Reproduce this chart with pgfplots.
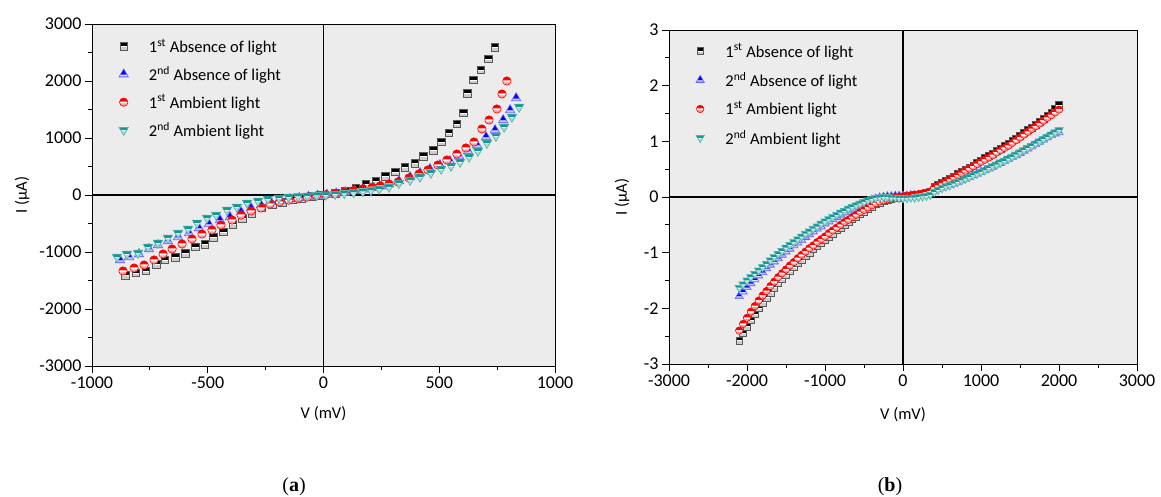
\documentclass[border=0pt]{standalone}
\usepackage{fontspec}
\setmainfont{Carlito}
\newfontfamily\capfont{Liberation Serif}
\usepackage{pgfplots}
\pgfplotsset{compat=1.18}
\definecolor{tealc}{RGB}{20,150,145}
\definecolor{bgc}{RGB}{236,236,236}
\newcommand\ms{\pgfplotmarksize}
% half-filled square: top filled, white stripe, light bottom
\pgfdeclareplotmark{hsq}{%
  \begin{pgfscope}\pgfsetfillcolor{white}%
  \pgfpathrectangle{\pgfqpoint{-\ms}{-\ms}}{\pgfqpoint{2\ms}{2\ms}}\pgfusepathqfill\end{pgfscope}%
  \pgfpathrectangle{\pgfqpoint{-\ms}{0.1\ms}}{\pgfqpoint{2\ms}{0.9\ms}}\pgfusepathqfill
  \begin{pgfscope}\pgfsetfillopacity{0.2}%
  \pgfpathrectangle{\pgfqpoint{-\ms}{-\ms}}{\pgfqpoint{2\ms}{0.8\ms}}\pgfusepathqfill\end{pgfscope}%
  \pgfpathrectangle{\pgfqpoint{-\ms}{-\ms}}{\pgfqpoint{2\ms}{2\ms}}\pgfusepathqstroke
}
\pgfdeclareplotmark{hcirc}{%
  \begin{pgfscope}\pgfsetfillcolor{white}%
  \pgfpathcircle{\pgfpointorigin}{\ms}\pgfusepathqfill\end{pgfscope}%
  \pgfpathmoveto{\pgfpointpolar{8}{\ms}}\pgfpatharc{8}{172}{\ms}\pgfpathclose\pgfusepathqfill
  \begin{pgfscope}\pgfsetfillopacity{0.4}%
  \pgfpathmoveto{\pgfpointpolar{-18}{\ms}}\pgfpatharc{-18}{-162}{\ms}\pgfpathclose\pgfusepathqfill\end{pgfscope}%
  \pgfpathcircle{\pgfpointorigin}{\ms}\pgfusepathqstroke
}
\pgfdeclareplotmark{htriu}{%
  \begin{pgfscope}\pgfsetfillcolor{white}%
  \pgfpathmoveto{\pgfqpoint{0pt}{1.25\ms}}\pgfpathlineto{\pgfqpoint{1.1\ms}{-0.65\ms}}\pgfpathlineto{\pgfqpoint{-1.1\ms}{-0.65\ms}}\pgfpathclose\pgfusepathqfill\end{pgfscope}%
  \pgfpathmoveto{\pgfqpoint{0pt}{1.25\ms}}\pgfpathlineto{\pgfqpoint{0.78\ms}{-0.1\ms}}\pgfpathlineto{\pgfqpoint{-0.78\ms}{-0.1\ms}}\pgfpathclose\pgfusepathqfill
  \begin{pgfscope}\pgfsetfillopacity{0.35}%
  \pgfpathmoveto{\pgfqpoint{-0.9\ms}{-0.3\ms}}\pgfpathlineto{\pgfqpoint{0.9\ms}{-0.3\ms}}\pgfpathlineto{\pgfqpoint{1.1\ms}{-0.65\ms}}\pgfpathlineto{\pgfqpoint{-1.1\ms}{-0.65\ms}}\pgfpathclose\pgfusepathqfill\end{pgfscope}%
  \pgfpathmoveto{\pgfqpoint{0pt}{1.25\ms}}\pgfpathlineto{\pgfqpoint{1.1\ms}{-0.65\ms}}\pgfpathlineto{\pgfqpoint{-1.1\ms}{-0.65\ms}}\pgfpathclose\pgfusepathqstroke
}
\pgfdeclareplotmark{htrid}{%
  \begin{pgfscope}\pgfsetfillcolor{white}%
  \pgfpathmoveto{\pgfqpoint{0pt}{-1.25\ms}}\pgfpathlineto{\pgfqpoint{1.1\ms}{0.65\ms}}\pgfpathlineto{\pgfqpoint{-1.1\ms}{0.65\ms}}\pgfpathclose\pgfusepathqfill\end{pgfscope}%
  \pgfpathmoveto{\pgfqpoint{-1.1\ms}{0.65\ms}}\pgfpathlineto{\pgfqpoint{1.1\ms}{0.65\ms}}\pgfpathlineto{\pgfqpoint{0.72\ms}{0pt}}\pgfpathlineto{\pgfqpoint{-0.72\ms}{0pt}}\pgfpathclose\pgfusepathqfill
  \begin{pgfscope}\pgfsetfillopacity{0.35}%
  \pgfpathmoveto{\pgfqpoint{0pt}{-1.25\ms}}\pgfpathlineto{\pgfqpoint{0.6\ms}{-0.2\ms}}\pgfpathlineto{\pgfqpoint{-0.6\ms}{-0.2\ms}}\pgfpathclose\pgfusepathqfill\end{pgfscope}%
  \pgfpathmoveto{\pgfqpoint{0pt}{-1.25\ms}}\pgfpathlineto{\pgfqpoint{1.1\ms}{0.65\ms}}\pgfpathlineto{\pgfqpoint{-1.1\ms}{0.65\ms}}\pgfpathclose\pgfusepathqstroke
}
\pgfplotsset{
  ivstyle/.style={
    scale only axis,
    anchor=south west,
    axis background/.style={fill=bgc},
    axis line style={black, line width=0.9pt},
    tick pos=left,
    tick align=outside,
    minor tick num=1,
    major tick length=7pt,
    minor tick length=4pt,
    tick style={black, line width=0.9pt},
    /pgf/number format/assume math mode=true,
    /pgf/number format/1000 sep={},
    ticklabel style={font=\fontsize{18}{21}\selectfont},
    label style={font=\fontsize{16.5}{19}\selectfont},
    legend cell align=left,
    legend style={draw=none, fill=none, font=\fontsize{16.5}{20}\selectfont, row sep=8.5pt, inner sep=3pt},
  },
  lgimg/.style={legend image code/.code={\path (0pt,-1pt) (30pt,1pt);\draw[mark repeat=2,mark phase=2,##1] plot coordinates {(0pt,0pt) (7pt,0pt) (30pt,0pt)};}},
  s1/.style={only marks, mark=hsq, mark size=3.8pt, draw=black!65, fill=black, mark options={line width=0.6pt}, lgimg},
  s2/.style={only marks, mark=htriu, mark size=4.3pt, draw=blue!60, fill=blue, mark options={line width=0.6pt}, lgimg},
  s3/.style={only marks, mark=hcirc, mark size=4.2pt, draw=red, fill=red, mark options={line width=0.6pt}, lgimg},
  s4/.style={only marks, mark=htrid, mark size=4.3pt, draw=tealc!75!white, fill=tealc, mark options={line width=0.6pt}, lgimg},
}
\begin{document}
\begin{tikzpicture}[x=1pt,y=1pt]
\useasboundingbox (0,0) rectangle (1161,497);
% ---------------- (a) ----------------
\begin{axis}[ivstyle,
  at={(92pt,131pt)}, width=463pt, height=342pt,
  xmin=-1000, xmax=1000, ymin=-3000, ymax=3000,
  xtick={-1000,-500,0,500,1000},
  ytick={-3000,-2000,-1000,0,1000,2000,3000},
  xlabel={V (mV)}, ylabel={I (μA)},
  xlabel style={at={(axis description cs:0.5,-0.14)}, anchor=center},
  ylabel style={at={(axis description cs:-0.151,0.5)}, anchor=center},
  legend style={at={(axis description cs:0.046,0.972)}, anchor=north west},
]
\addplot[black, line width=1.1pt, forget plot] coordinates {(0,-3000) (0,3000)};
\addplot[black, line width=1.1pt, forget plot] coordinates {(-1000,0) (1000,0)};
\addplot[s1] coordinates {
(-857,-1404) (-810,-1368) (-767,-1333) (-723,-1211) (-685,-1140) (-641,-1088) (-598,-1018)
(-555,-912) (-512,-860) (-477,-737) (-434,-649) (-391,-509) (-352,-404) (-309,-316)
(-266,-228) (-222,-175) (-179,-123) (-136,-85) (-93,-55) (-50,-28) (-7,-5)
(50,30) (93,70) (140,123) (183,193) (226,246) (266,333) (309,404) (352,491) (395,561)
(430,684) (473,789) (508,930) (542,1088) (576,1246) (603,1439) (620,1789) (646,2018)
(680,2193) (711,2386) (740,2596)};
\addlegendentry{1\textsuperscript{st} Absence of light}
\addplot[s2] coordinates {
(-879,-1140) (-840,-1088) (-797,-1035) (-754,-947) (-715,-877) (-672,-807) (-628,-737)
(-581,-667) (-538,-579) (-495,-509) (-447,-439) (-404,-386) (-356,-298) (-313,-228)
(-270,-175) (-227,-123) (-185,-95) (-145,-70) (-105,-48) (-65,-28) (-25,-10)
(15,8) (55,28) (95,50) (135,75) (175,100) (215,128) (250,155) (283,190) (326,246)
(374,316) (417,386) (460,456) (503,526) (546,596) (585,684) (624,772) (663,877)
(702,1018) (741,1140) (776,1316) (806,1491) (832,1700)};
\addlegendentry{2\textsuperscript{nd} Absence of light}
\addplot[s3] coordinates {
(-866,-1333) (-818,-1281) (-775,-1228) (-732,-1140) (-693,-1035) (-654,-947) (-611,-860)
(-568,-772) (-525,-684) (-482,-614) (-443,-526) (-395,-439) (-356,-351) (-313,-281)
(-270,-228) (-231,-158) (-190,-120) (-150,-90) (-110,-62) (-70,-38) (-30,-15)
(10,5) (50,25) (90,50) (130,80) (170,110) (210,135) (245,160) (283,193) (322,228)
(369,298) (412,368) (451,439) (494,526) (533,614) (576,719) (615,825) (650,930)
(684,1158) (715,1316) (749,1509) (771,1772) (792,2000)};
\addlegendentry{1\textsuperscript{st} Ambient light}
\addplot[s4] coordinates {
(-892,-1088) (-849,-1035) (-801,-1018) (-758,-912) (-715,-842) (-672,-754) (-628,-667)
(-585,-596) (-546,-491) (-503,-404) (-464,-351) (-417,-263) (-374,-210) (-330,-140)
(-283,-105) (-240,-70) (-192,-50) (-150,-35) (-110,-25) (-70,-15) (-30,-5)
(10,3) (50,15) (90,30) (130,45) (170,62) (205,82) (240,105) (283,140) (326,210)
(374,263) (417,316) (464,386) (508,456) (551,509) (590,579) (629,667) (667,772)
(706,912) (745,1035) (780,1193) (814,1368) (845,1544)};
\addlegendentry{2\textsuperscript{nd} Ambient light}
\end{axis}
% ---------------- (b) ----------------
\begin{axis}[ivstyle,
  at={(669pt,133pt)}, width=468pt, height=334pt,
  xmin=-3000, xmax=3000, ymin=-3, ymax=3,
  xtick={-3000,-2000,-1000,0,1000,2000,3000},
  ytick={-3,-2,-1,0,1,2,3},
  xlabel={V (mV)}, ylabel={I (μA)},
  xlabel style={at={(axis description cs:0.5,-0.153)}, anchor=center},
  ylabel style={at={(axis description cs:-0.10,0.5)}, anchor=center},
  legend style={at={(axis description cs:0.0445,0.975)}, anchor=north west, row sep=9.5pt},
  s1/.append style={mark size=3.4pt},
  s2/.append style={mark size=3.8pt},
  s3/.append style={mark size=3.7pt},
  s4/.append style={mark size=3.8pt},
]
\addplot[black, line width=1.1pt, forget plot] coordinates {(0,-3) (0,3)};
\addplot[black, line width=1.1pt, forget plot] coordinates {(-3000,0) (3000,0)};
\addplot[s1] coordinates {
(-2100,-2.58) (-2050,-2.45) (-2000,-2.33) (-1950,-2.21) (-1900,-2.10) (-1850,-2.00)
(-1800,-1.90) (-1750,-1.81) (-1700,-1.72) (-1650,-1.63) (-1600,-1.55) (-1550,-1.47)
(-1500,-1.40) (-1450,-1.33) (-1400,-1.26) (-1350,-1.19) (-1300,-1.13) (-1250,-1.06)
(-1200,-1.00) (-1150,-0.94) (-1100,-0.88) (-1050,-0.82) (-1000,-0.77) (-950,-0.71)
(-900,-0.66) (-850,-0.60) (-800,-0.55) (-750,-0.50) (-700,-0.45) (-650,-0.40)
(-600,-0.35) (-550,-0.30) (-500,-0.26) (-450,-0.21) (-400,-0.17) (-350,-0.13)
(-300,-0.10) (-250,-0.07) (-200,-0.05) (-150,-0.03) (-100,-0.02) (-50,-0.01)
(0,0.01) (50,0.02) (100,0.03) (150,0.04) (200,0.05) (250,0.06) (300,0.08) (350,0.10)
(400,0.19) (450,0.22) (500,0.26) (550,0.29) (600,0.33) (650,0.37) (700,0.41) (750,0.45)
(800,0.49) (850,0.53) (900,0.57) (950,0.61) (1000,0.66) (1050,0.70) (1100,0.74) (1150,0.78)
(1200,0.83) (1250,0.87) (1300,0.92) (1350,0.96) (1400,1.01) (1450,1.05) (1500,1.10)
(1550,1.15) (1600,1.20) (1650,1.25) (1700,1.30) (1750,1.35) (1800,1.41) (1850,1.46)
(1900,1.52) (1950,1.58) (2000,1.65)};
\addlegendentry{1\textsuperscript{st} Absence of light}
\addplot[s2] coordinates {
(-2100,-1.78) (-2050,-1.70) (-2000,-1.62) (-1950,-1.55) (-1900,-1.48) (-1850,-1.41)
(-1800,-1.35) (-1750,-1.28) (-1700,-1.22) (-1650,-1.16) (-1600,-1.10) (-1550,-1.04)
(-1500,-0.98) (-1450,-0.93) (-1400,-0.87) (-1350,-0.82) (-1300,-0.77) (-1250,-0.72)
(-1200,-0.67) (-1150,-0.62) (-1100,-0.57) (-1050,-0.53) (-1000,-0.48) (-950,-0.44)
(-900,-0.40) (-850,-0.36) (-800,-0.32) (-750,-0.28) (-700,-0.24) (-650,-0.21)
(-600,-0.17) (-550,-0.14) (-500,-0.11) (-450,-0.08) (-400,-0.05) (-350,-0.03)
(-300,-0.01) (-250,0.00) (-200,0.01) (-150,0.01) (-100,0.02) (-50,0.02)
(0,0.02) (50,0.02) (100,0.03) (150,0.03) (200,0.04) (250,0.05) (300,0.06) (350,0.07)
(400,0.10) (450,0.14) (500,0.17) (550,0.19) (600,0.22) (650,0.24) (700,0.27) (750,0.30)
(800,0.33) (850,0.36) (900,0.39) (950,0.42) (1000,0.45) (1050,0.48) (1100,0.51) (1150,0.54)
(1200,0.58) (1250,0.61) (1300,0.65) (1350,0.68) (1400,0.72) (1450,0.75) (1500,0.79)
(1550,0.83) (1600,0.87) (1650,0.91) (1700,0.95) (1750,0.99) (1800,1.03) (1850,1.07)
(1900,1.11) (1950,1.14) (2000,1.16)};
\addlegendentry{2\textsuperscript{nd} Absence of light}
\addplot[s3] coordinates {
(-2100,-2.40) (-2050,-2.28) (-2000,-2.17) (-1950,-2.06) (-1900,-1.96) (-1850,-1.86)
(-1800,-1.77) (-1750,-1.69) (-1700,-1.60) (-1650,-1.52) (-1600,-1.44) (-1550,-1.37)
(-1500,-1.30) (-1450,-1.23) (-1400,-1.17) (-1350,-1.10) (-1300,-1.04) (-1250,-0.98)
(-1200,-0.92) (-1150,-0.87) (-1100,-0.81) (-1050,-0.76) (-1000,-0.71) (-950,-0.65)
(-900,-0.60) (-850,-0.55) (-800,-0.50) (-750,-0.45) (-700,-0.41) (-650,-0.36)
(-600,-0.32) (-550,-0.27) (-500,-0.23) (-450,-0.19) (-400,-0.15) (-350,-0.11)
(-300,-0.08) (-250,-0.06) (-200,-0.04) (-150,-0.02) (-100,-0.01) (-50,0.00)
(0,0.01) (50,0.02) (100,0.03) (150,0.04) (200,0.05) (250,0.06) (300,0.08) (350,0.10)
(400,0.17) (450,0.20) (500,0.24) (550,0.27) (600,0.31) (650,0.35) (700,0.39) (750,0.43)
(800,0.47) (850,0.51) (900,0.55) (950,0.59) (1000,0.63) (1050,0.67) (1100,0.71) (1150,0.75)
(1200,0.80) (1250,0.84) (1300,0.88) (1350,0.92) (1400,0.97) (1450,1.02) (1500,1.07)
(1550,1.12) (1600,1.17) (1650,1.22) (1700,1.27) (1750,1.32) (1800,1.37) (1850,1.42)
(1900,1.47) (1950,1.52) (2000,1.57)};
\addlegendentry{1\textsuperscript{st} Ambient light}
\addplot[s4] coordinates {
(-2100,-1.63) (-2050,-1.57) (-2000,-1.50) (-1950,-1.44) (-1900,-1.38) (-1850,-1.32)
(-1800,-1.26) (-1750,-1.20) (-1700,-1.14) (-1650,-1.08) (-1600,-1.02) (-1550,-0.97)
(-1500,-0.91) (-1450,-0.86) (-1400,-0.81) (-1350,-0.76) (-1300,-0.71) (-1250,-0.66)
(-1200,-0.62) (-1150,-0.57) (-1100,-0.53) (-1050,-0.48) (-1000,-0.44) (-950,-0.40)
(-900,-0.36) (-850,-0.32) (-800,-0.28) (-750,-0.25) (-700,-0.21) (-650,-0.18)
(-600,-0.15) (-550,-0.12) (-500,-0.09) (-450,-0.06) (-400,-0.04) (-350,-0.02)
(-300,-0.01) (-250,0.00) (-200,0.00) (-150,-0.01) (-100,-0.01) (-50,-0.02)
(0,-0.02) (50,-0.02) (100,-0.01) (150,-0.01) (200,0.00) (250,0.01) (300,0.02) (350,0.04)
(400,0.09) (450,0.13) (500,0.16) (550,0.19) (600,0.21) (650,0.24) (700,0.27) (750,0.30)
(800,0.33) (850,0.36) (900,0.39) (950,0.42) (1000,0.45) (1050,0.48) (1100,0.52) (1150,0.55)
(1200,0.58) (1250,0.62) (1300,0.65) (1350,0.69) (1400,0.72) (1450,0.76) (1500,0.80)
(1550,0.84) (1600,0.88) (1650,0.92) (1700,0.96) (1750,1.00) (1800,1.04) (1850,1.08)
(1900,1.12) (1950,1.16) (2000,1.20)};
\addlegendentry{2\textsuperscript{nd} Ambient light}
\end{axis}
% captions
\node[font=\capfont\fontsize{20}{24}\selectfont] at (294,10) {(\textbf{a})};
\node[font=\capfont\fontsize{20}{24}\selectfont] at (890,10) {(\textbf{b})};
\end{tikzpicture}
\end{document}
